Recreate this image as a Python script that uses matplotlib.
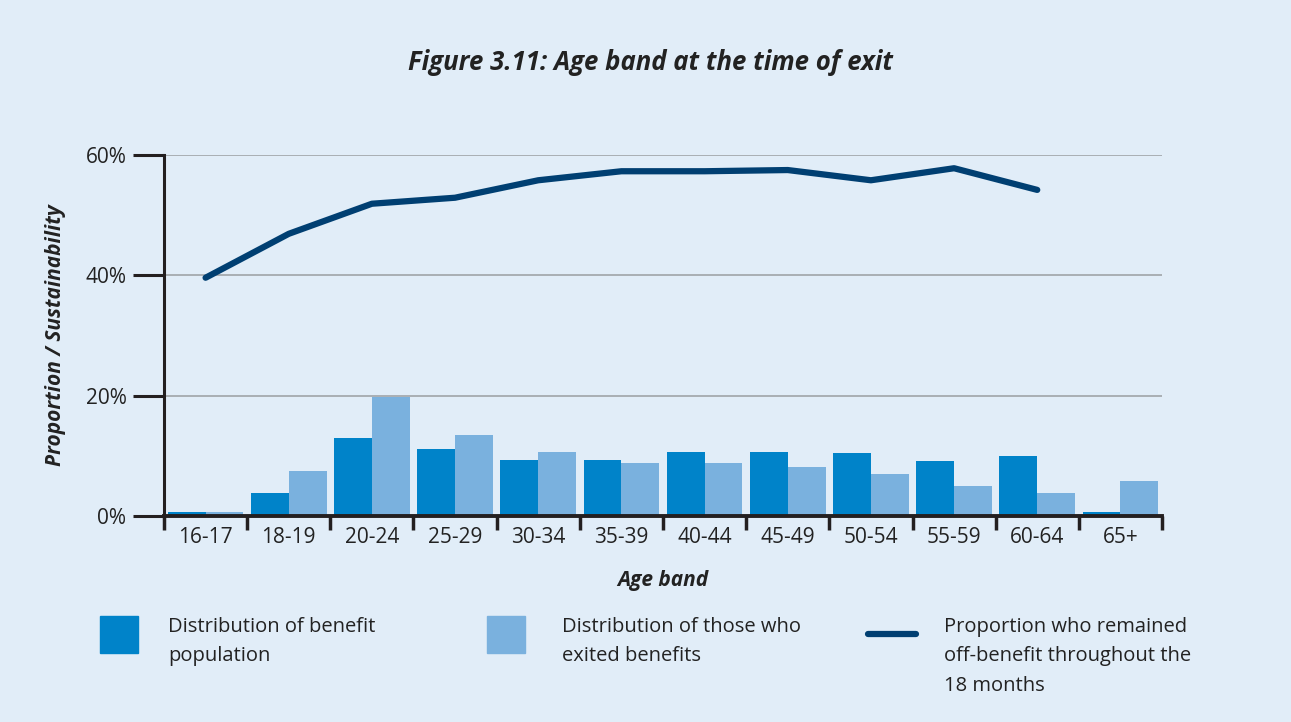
import matplotlib.pyplot as plt
from matplotlib.patches import Rectangle
from matplotlib.lines import Line2D
import numpy as np

faixas = ['16-17', '18-19', '20-24', '25-29', '30-34', '35-39',
          '40-44', '45-49', '50-54', '55-59', '60-64', '65+']
populacao = [0.7, 3.8, 13.0, 11.1, 9.3, 9.3, 10.6, 10.6, 10.5, 9.1, 10.0, 0.7]
saidas = [0.7, 7.5, 19.8, 13.5, 10.6, 8.8, 8.8, 8.1, 7.0, 5.0, 3.8, 5.8]
sustentabilidade = [39.6, 46.9, 51.9, 52.9, 55.8, 57.3, 57.3, 57.5, 55.8, 57.8, 54.2]

fundo = '#E1EDF8'
azul = '#0083C9'
azul_claro = '#7AB1DE'
azul_escuro = '#003F72'
texto = '#222222'

plt.rcParams['font.family'] = ['Open Sans', 'DejaVu Sans']

W, H = 1291, 722
fig = plt.figure(figsize=(W / 100, H / 100), dpi=100, facecolor=fundo)
ax = fig.add_axes([164 / W, 1 - 516 / H, (1162 - 164) / W, (516 - 155) / H])
ax.set_facecolor(fundo)

x = np.arange(len(faixas))
w = 0.455
ax.bar(x - w / 2, populacao, width=w, color=azul, zorder=3)
ax.bar(x + w / 2, saidas, width=w, color=azul_claro, zorder=3)
ax.plot(x[:len(sustentabilidade)], sustentabilidade, color=azul_escuro, lw=4.5,
        solid_capstyle='round', solid_joinstyle='round', zorder=4)

ax.set_xlim(-0.5, len(faixas) - 0.5)
ax.set_ylim(0, 60)
ax.set_yticks([0, 20, 40, 60])
ax.set_yticklabels(['0%', '20%', '40%', '60%'], fontsize=15, color=texto)
ax.yaxis.grid(True, color='#A0A4A8', lw=1.2, zorder=0)
ax.tick_params(axis='y', length=22, width=2.2, color='#231F20', pad=5)

ax.set_xticks(np.arange(-0.5, len(faixas)), minor=False)
ax.set_xticklabels([])
ax.set_xticks(x, minor=True)
ax.set_xticklabels(faixas, minor=True, fontsize=15, color=texto)
ax.tick_params(axis='x', which='major', length=10, width=2.5, color='#231F20')
ax.tick_params(axis='x', which='minor', length=0, pad=8)

for s in ['top', 'right']:
    ax.spines[s].set_visible(False)
for s in ['left', 'bottom']:
    ax.spines[s].set_color('#231F20')
    ax.spines[s].set_zorder(5)
ax.spines['left'].set_linewidth(2.2)
ax.spines['bottom'].set_linewidth(2.8)

ax.set_xlabel('Age band', fontsize=15, fontweight='bold', style='italic', labelpad=16, color=texto)
ax.set_ylabel('Proportion / Sustainability', fontsize=15, fontweight='bold', style='italic',
              labelpad=14, color=texto)

fig.text(650 / W, 1 - 62 / H, 'Figure 3.11: Age band at the time of exit', ha='center', va='center',
         fontsize=18.5, fontweight='bold', style='italic', color=texto)

# legenda manual
fig.add_artist(Rectangle((100 / W, 1 - 653 / H), 38 / W, 37 / H, color=azul, transform=fig.transFigure))
fig.add_artist(Rectangle((487 / W, 1 - 653 / H), 38 / W, 37 / H, color=azul_claro, transform=fig.transFigure))
fig.add_artist(Line2D([868 / W, 916 / W], [1 - 634 / H, 1 - 634 / H], color=azul_escuro, lw=4.5,
                      solid_capstyle='round', transform=fig.transFigure))
legendas = [('Distribution of benefit\npopulation', 168),
            ('Distribution of those who\nexited benefits', 562),
            ('Proportion who remained\noff-benefit throughout the\n18 months', 944)]
for t, px in legendas:
    fig.text(px / W, 1 - 617 / H, t, ha='left', va='top', fontsize=14.5, color=texto, linespacing=1.62)

fig.savefig('out.png', dpi=100, facecolor=fundo)
